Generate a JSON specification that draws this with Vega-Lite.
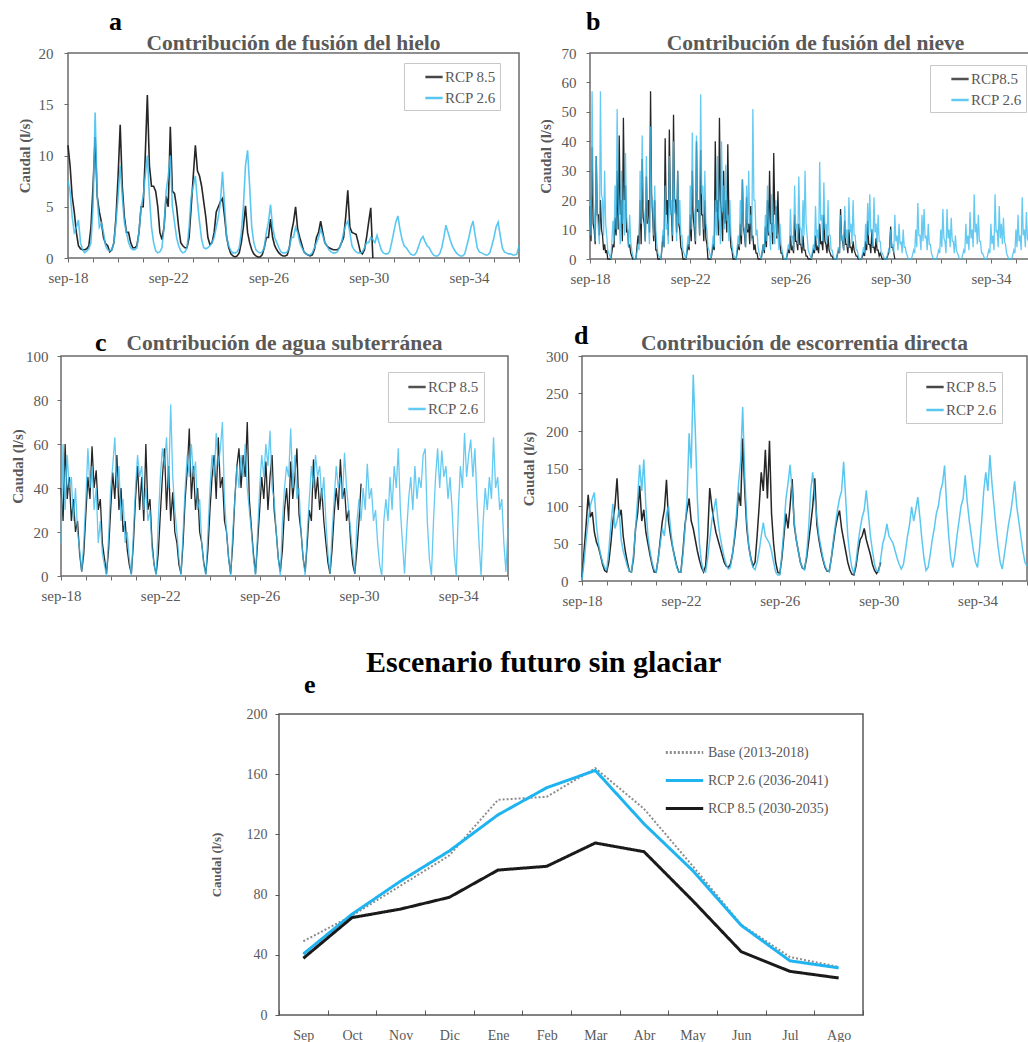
{
"$schema":"https://vega.github.io/schema/vega-lite/v6.json",
"background":"white",
"padding":{"left":2,"top":8,"right":5,"bottom":5},
"config":{
 "font":"Liberation Serif",
 "view":{"stroke":"#6b6b6b","strokeWidth":1.5},
 "line":{"invalid":"filter"},
 "axis":{"domain":false,"grid":false,"labelFont":"Liberation Serif","labelFontSize":15,"labelColor":"#595959","titleFont":"Liberation Serif","titleFontSize":15,"titleFontWeight":"bold","titleColor":"#595959","tickColor":"#6b6b6b","tickSize":4,"labelPadding":8,"titlePadding":6},
 "title":{"font":"Liberation Serif","fontWeight":"bold","fontSize":21.5,"color":"#595959"},
 "legend":{"labelFont":"Liberation Serif"}
},
"datasets":{
"ts":[
{"t":0,"a8":11,"a2":7.5,"b8":18,"b2":20,"c8":40,"c2":15,"d8":5,"d2":2},
{"t":1,"a8":9,"a2":6.5,"b8":38,"b2":57,"c8":25,"c2":60,"d8":40,"d2":25},
{"t":2,"a8":6,"a2":4,"b8":10,"b2":15,"c8":60,"c2":30,"d8":75,"d2":55},
{"t":3,"a8":4.5,"a2":2.5,"b8":35,"b2":35,"c8":35,"c2":55,"d8":115,"d2":80},
{"t":4,"a8":2.5,"a2":3,"b8":15,"b2":10,"c8":45,"c2":40,"d8":85,"d2":100},
{"t":5,"a8":1.2,"a2":3.7,"b8":20,"b2":57,"c8":25,"c2":45,"d8":92,"d2":110},
{"t":6,"a8":0.9,"a2":1.5,"b8":8,"b2":20,"c8":35,"c2":25,"d8":65,"d2":118},
{"t":7,"a8":0.8,"a2":0.8,"b8":5,"b2":30,"c8":20,"c2":40,"d8":52,"d2":75},
{"t":8,"a8":0.8,"a2":0.5,"b8":3,"b2":8,"c8":25,"c2":20,"d8":45,"d2":50},
{"t":9,"a8":0.9,"a2":0.7,"b8":0,"b2":2,"c8":10,"c2":12,"d8":34,"d2":35},
{"t":10,"a8":1.2,"a2":0.9,"b8":0,"b2":0,"c8":2,"c2":2,"d8":22,"d2":25},
{"t":11,"a8":3,"a2":1.5,"b8":5,"b2":13,"c8":10,"c2":15,"d8":14,"d2":18},
{"t":12,"a8":7,"a2":5,"b8":14,"b2":25,"c8":28,"c2":35,"d8":12,"d2":15},
{"t":13,"a8":11.8,"a2":14.2,"b8":30,"b2":51,"c8":45,"c2":58,"d8":25,"d2":40},
{"t":14,"a8":6,"a2":6,"b8":42,"b2":12,"c8":35,"c2":40,"d8":50,"d2":75},
{"t":15,"a8":4.5,"a2":3,"b8":20,"b2":30,"c8":59,"c2":50,"d8":80,"d2":103},
{"t":16,"a8":3.5,"a2":3.4,"b8":48,"b2":20,"c8":40,"c2":30,"d8":100,"d2":70},
{"t":17,"a8":2,"a2":2.5,"b8":25,"b2":36,"c8":48,"c2":40,"d8":137,"d2":80},
{"t":18,"a8":1.4,"a2":1.2,"b8":10,"b2":10,"c8":30,"c2":15,"d8":85,"d2":95},
{"t":19,"a8":1.2,"a2":0.8,"b8":5,"b2":15,"c8":35,"c2":25,"d8":95,"d2":55},
{"t":20,"a8":0.6,"a2":0.7,"b8":1,"b2":3,"c8":15,"c2":10,"d8":60,"d2":40},
{"t":21,"a8":0.8,"a2":0.8,"b8":0,"b2":0,"c8":8,"c2":5,"d8":40,"d2":30},
{"t":22,"a8":1.5,"a2":1.5,"b8":0,"b2":0,"c8":1,"c2":0,"d8":25,"d2":20},
{"t":23,"a8":4,"a2":3.5,"b8":8,"b2":5,"c8":12,"c2":18,"d8":13,"d2":13},
{"t":24,"a8":8,"a2":6,"b8":20,"b2":30,"c8":30,"c2":40,"d8":12,"d2":12},
{"t":25,"a8":13,"a2":9,"b8":34,"b2":42,"c8":47,"c2":50,"d8":30,"d2":35},
{"t":26,"a8":7,"a2":6,"b8":12,"b2":15,"c8":35,"c2":63,"d8":70,"d2":70},
{"t":27,"a8":4,"a2":3.5,"b8":28,"b2":35,"c8":55,"c2":40,"d8":90,"d2":110},
{"t":28,"a8":2.5,"a2":2.5,"b8":20,"b2":12,"c8":30,"c2":50,"d8":127,"d2":155},
{"t":29,"a8":2.5,"a2":1.5,"b8":57,"b2":45,"c8":40,"c2":25,"d8":80,"d2":120},
{"t":30,"a8":1.5,"a2":1,"b8":15,"b2":20,"c8":20,"c2":35,"d8":95,"d2":162},
{"t":31,"a8":1,"a2":0.8,"b8":20,"b2":25,"c8":25,"c2":15,"d8":65,"d2":100},
{"t":32,"a8":1,"a2":0.8,"b8":3,"b2":5,"c8":12,"c2":20,"d8":50,"d2":60},
{"t":33,"a8":1.2,"a2":1,"b8":0,"b2":1,"c8":5,"c2":8,"d8":35,"d2":40},
{"t":34,"a8":2.5,"a2":2.5,"b8":0,"b2":0,"c8":1,"c2":0,"d8":22,"d2":25},
{"t":35,"a8":5,"a2":5,"b8":8,"b2":10,"c8":15,"c2":20,"d8":12,"d2":15},
{"t":36,"a8":5,"a2":6,"b8":41,"b2":25,"c8":35,"c2":40,"d8":12,"d2":12},
{"t":37,"a8":10,"a2":8,"b8":20,"b2":12,"c8":50,"c2":55,"d8":30,"d2":30},
{"t":38,"a8":15.9,"a2":10,"b8":44,"b2":35,"c8":30,"c2":45,"d8":55,"d2":50},
{"t":39,"a8":9,"a2":6,"b8":15,"b2":20,"c8":45,"c2":50,"d8":80,"d2":70},
{"t":40,"a8":7,"a2":3,"b8":49,"b2":40,"c8":25,"c2":30,"d8":95,"d2":60},
{"t":41,"a8":7,"a2":1.5,"b8":20,"b2":15,"c8":60,"c2":40,"d8":135,"d2":90},
{"t":42,"a8":6.5,"a2":0.7,"b8":30,"b2":30,"c8":30,"c2":25,"d8":80,"d2":100},
{"t":43,"a8":5,"a2":0.5,"b8":10,"b2":20,"c8":35,"c2":30,"d8":60,"d2":70},
{"t":44,"a8":2.5,"a2":0.6,"b8":3,"b2":8,"c8":15,"c2":12,"d8":45,"d2":45},
{"t":45,"a8":1.8,"a2":1,"b8":0,"b2":2,"c8":5,"c2":5,"d8":32,"d2":30},
{"t":46,"a8":3,"a2":3,"b8":0,"b2":0,"c8":1,"c2":0,"d8":20,"d2":18},
{"t":47,"a8":6,"a2":6.5,"b8":5,"b2":8,"c8":10,"c2":25,"d8":12,"d2":12},
{"t":48,"a8":5,"a2":8,"b8":15,"b2":25,"c8":28,"c2":45,"d8":12,"d2":12},
{"t":49,"a8":12.8,"a2":10,"b8":30,"b2":43,"c8":45,"c2":58,"d8":40,"d2":35},
{"t":50,"a8":6.5,"a2":5,"b8":10,"b2":15,"c8":58,"c2":50,"d8":75,"d2":70},
{"t":51,"a8":6.3,"a2":3.5,"b8":40,"b2":42,"c8":30,"c2":63,"d8":95,"d2":110},
{"t":52,"a8":5,"a2":2,"b8":20,"b2":20,"c8":50,"c2":40,"d8":110,"d2":197},
{"t":53,"a8":3,"a2":1.2,"b8":37,"b2":56,"c8":25,"c2":78,"d8":80,"d2":150},
{"t":54,"a8":1.5,"a2":0.7,"b8":15,"b2":25,"c8":38,"c2":45,"d8":70,"d2":275},
{"t":55,"a8":1.2,"a2":0.5,"b8":20,"b2":30,"c8":20,"c2":30,"d8":55,"d2":200},
{"t":56,"a8":1,"a2":0.6,"b8":5,"b2":10,"c8":15,"c2":20,"d8":40,"d2":110},
{"t":57,"a8":1,"a2":1,"b8":0,"b2":3,"c8":5,"c2":8,"d8":28,"d2":50},
{"t":58,"a8":2,"a2":3,"b8":0,"b2":0,"c8":1,"c2":0,"d8":18,"d2":25},
{"t":59,"a8":5,"a2":6,"b8":5,"b2":8,"c8":15,"c2":20,"d8":12,"d2":13},
{"t":60,"a8":8,"a2":7,"b8":40,"b2":20,"c8":35,"c2":40,"d8":20,"d2":12},
{"t":61,"a8":11,"a2":8,"b8":20,"b2":35,"c8":48,"c2":55,"d8":60,"d2":30},
{"t":62,"a8":8.5,"a2":5.5,"b8":48,"b2":12,"c8":67,"c2":45,"d8":124,"d2":55},
{"t":63,"a8":8,"a2":3.5,"b8":15,"b2":40,"c8":35,"c2":60,"d8":100,"d2":80},
{"t":64,"a8":7,"a2":1.8,"b8":30,"b2":25,"c8":50,"c2":45,"d8":80,"d2":95},
{"t":65,"a8":5.5,"a2":1,"b8":20,"b2":32,"c8":30,"c2":52,"d8":65,"d2":110},
{"t":66,"a8":4,"a2":0.9,"b8":39,"b2":15,"c8":40,"c2":30,"d8":55,"d2":80},
{"t":67,"a8":2,"a2":1,"b8":10,"b2":20,"c8":20,"c2":35,"d8":45,"d2":60},
{"t":68,"a8":1.3,"a2":1.2,"b8":3,"b2":5,"c8":15,"c2":15,"d8":35,"d2":45},
{"t":69,"a8":1.5,"a2":1.5,"b8":0,"b2":1,"c8":6,"c2":5,"d8":25,"d2":32},
{"t":70,"a8":2.5,"a2":2,"b8":0,"b2":0,"c8":1,"c2":0,"d8":20,"d2":22},
{"t":71,"a8":4.5,"a2":3,"b8":5,"b2":8,"c8":12,"c2":20,"d8":18,"d2":16},
{"t":72,"a8":5,"a2":4,"b8":12,"b2":20,"c8":30,"c2":40,"d8":22,"d2":18},
{"t":73,"a8":5.5,"a2":5.5,"b8":27,"b2":27,"c8":45,"c2":55,"d8":35,"d2":35},
{"t":74,"a8":5.8,"a2":8.4,"b8":8,"b2":10,"c8":55,"c2":45,"d8":55,"d2":60},
{"t":75,"a8":4,"a2":5,"b8":21,"b2":25,"c8":35,"c2":65,"d8":80,"d2":90},
{"t":76,"a8":2,"a2":2,"b8":12,"b2":30,"c8":63,"c2":50,"d8":118,"d2":130},
{"t":77,"a8":1,"a2":1.2,"b8":18,"b2":15,"c8":40,"c2":58,"d8":100,"d2":160},
{"t":78,"a8":0.4,"a2":0.7,"b8":8,"b2":51,"c8":45,"c2":70,"d8":190,"d2":232},
{"t":79,"a8":0.2,"a2":0.5,"b8":5,"b2":20,"c8":25,"c2":35,"d8":120,"d2":140},
{"t":80,"a8":0.1,"a2":0.5,"b8":2,"b2":10,"c8":20,"c2":20,"d8":70,"d2":80},
{"t":81,"a8":0.2,"a2":0.6,"b8":0,"b2":2,"c8":8,"c2":8,"d8":45,"d2":45},
{"t":82,"a8":0.5,"a2":1,"b8":0,"b2":0,"c8":1,"c2":0,"d8":30,"d2":28},
{"t":83,"a8":1.5,"a2":2.5,"b8":5,"b2":5,"c8":15,"c2":20,"d8":20,"d2":18},
{"t":84,"a8":3,"a2":5,"b8":11,"b2":15,"c8":35,"c2":35,"d8":25,"d2":15},
{"t":85,"a8":5.1,"a2":9,"b8":20,"b2":25,"c8":50,"c2":50,"d8":60,"d2":25},
{"t":86,"a8":2.5,"a2":10.5,"b8":30,"b2":8,"c8":58,"c2":40,"d8":100,"d2":40},
{"t":87,"a8":1.5,"a2":7,"b8":12,"b2":22,"c8":40,"c2":55,"d8":145,"d2":60},
{"t":88,"a8":0.8,"a2":3,"b8":36,"b2":12,"c8":55,"c2":45,"d8":120,"d2":78},
{"t":89,"a8":0.4,"a2":1.5,"b8":18,"b2":20,"c8":45,"c2":60,"d8":175,"d2":60},
{"t":90,"a8":0.2,"a2":0.8,"b8":23,"b2":8,"c8":70,"c2":40,"d8":110,"d2":55},
{"t":91,"a8":0.1,"a2":0.6,"b8":5,"b2":12,"c8":35,"c2":30,"d8":187,"d2":50},
{"t":92,"a8":0.1,"a2":0.5,"b8":2,"b2":3,"c8":22,"c2":20,"d8":90,"d2":40},
{"t":93,"a8":0.3,"a2":0.6,"b8":0,"b2":0,"c8":10,"c2":8,"d8":50,"d2":25},
{"t":94,"a8":1,"a2":1,"b8":0,"b2":0,"c8":1,"c2":0,"d8":25,"d2":12},
{"t":95,"a8":2,"a2":2.5,"b8":3,"b2":5,"c8":15,"c2":20,"d8":12,"d2":8},
{"t":96,"a8":2,"a2":3.5,"b8":8,"b2":17,"c8":30,"c2":40,"d8":10,"d2":8},
{"t":97,"a8":3.8,"a2":5.2,"b8":4,"b2":8,"c8":45,"c2":55,"d8":30,"d2":35},
{"t":98,"a8":2,"a2":3,"b8":15,"b2":25,"c8":35,"c2":45,"d8":60,"d2":70},
{"t":99,"a8":1.2,"a2":2,"b8":6,"b2":12,"c8":52,"c2":60,"d8":90,"d2":110},
{"t":100,"a8":0.8,"a2":1.5,"b8":12,"b2":28,"c8":30,"c2":50,"d8":70,"d2":130},
{"t":101,"a8":0.5,"a2":1,"b8":5,"b2":10,"c8":45,"c2":66,"d8":100,"d2":155},
{"t":102,"a8":0.3,"a2":0.6,"b8":8,"b2":20,"c8":55,"c2":40,"d8":136,"d2":120},
{"t":103,"a8":0.2,"a2":0.5,"b8":3,"b2":30,"c8":30,"c2":35,"d8":75,"d2":80},
{"t":104,"a8":0.2,"a2":0.5,"b8":1,"b2":8,"c8":20,"c2":20,"d8":55,"d2":55},
{"t":105,"a8":0.3,"a2":0.6,"b8":0,"b2":2,"c8":8,"c2":8,"d8":40,"d2":40},
{"t":106,"a8":1,"a2":1,"b8":0,"b2":0,"c8":2,"c2":0,"d8":25,"d2":25},
{"t":107,"a8":2.5,"a2":2,"b8":3,"b2":5,"c8":12,"c2":25,"d8":17,"d2":18},
{"t":108,"a8":3.5,"a2":2,"b8":8,"b2":18,"c8":30,"c2":40,"d8":16,"d2":15},
{"t":109,"a8":5,"a2":3,"b8":4,"b2":10,"c8":40,"c2":50,"d8":30,"d2":35},
{"t":110,"a8":2.8,"a2":2.5,"b8":12,"b2":33,"c8":25,"c2":45,"d8":52,"d2":70},
{"t":111,"a8":2,"a2":1.5,"b8":6,"b2":15,"c8":52,"c2":67,"d8":75,"d2":120},
{"t":112,"a8":1.3,"a2":1,"b8":15,"b2":26,"c8":35,"c2":40,"d8":100,"d2":145},
{"t":113,"a8":0.6,"a2":0.6,"b8":5,"b2":12,"c8":45,"c2":55,"d8":137,"d2":110},
{"t":114,"a8":0.4,"a2":0.4,"b8":8,"b2":20,"c8":58,"c2":35,"d8":75,"d2":85},
{"t":115,"a8":0.3,"a2":0.3,"b8":2,"b2":8,"c8":28,"c2":40,"d8":55,"d2":60},
{"t":116,"a8":0.2,"a2":0.3,"b8":1,"b2":3,"c8":20,"c2":20,"d8":40,"d2":45},
{"t":117,"a8":0.3,"a2":0.5,"b8":0,"b2":0,"c8":8,"c2":8,"d8":28,"d2":30},
{"t":118,"a8":0.8,"a2":1,"b8":0,"b2":0,"c8":2,"c2":0,"d8":18,"d2":20},
{"t":119,"a8":2,"a2":1.5,"b8":3,"b2":4,"c8":15,"c2":20,"d8":13,"d2":14},
{"t":120,"a8":2.5,"a2":2,"b8":17,"b2":15,"c8":30,"c2":35,"d8":13,"d2":12},
{"t":121,"a8":3.6,"a2":2.8,"b8":6,"b2":8,"c8":25,"c2":50,"d8":30,"d2":30},
{"t":122,"a8":2.5,"a2":2.2,"b8":13,"b2":18,"c8":53,"c2":40,"d8":50,"d2":55},
{"t":123,"a8":1.5,"a2":1.5,"b8":5,"b2":10,"c8":35,"c2":55,"d8":70,"d2":75},
{"t":124,"a8":1.2,"a2":1.2,"b8":10,"b2":21,"c8":45,"c2":45,"d8":85,"d2":95},
{"t":125,"a8":1,"a2":0.8,"b8":4,"b2":12,"c8":30,"c2":50,"d8":94,"d2":110},
{"t":126,"a8":0.9,"a2":0.6,"b8":6,"b2":20,"c8":40,"c2":35,"d8":70,"d2":120},
{"t":127,"a8":0.8,"a2":0.5,"b8":2,"b2":8,"c8":25,"c2":45,"d8":55,"d2":159},
{"t":128,"a8":0.8,"a2":0.5,"b8":1,"b2":3,"c8":15,"c2":25,"d8":40,"d2":110},
{"t":129,"a8":0.8,"a2":0.6,"b8":0,"b2":0,"c8":6,"c2":10,"d8":25,"d2":60},
{"t":130,"a8":1,"a2":1,"b8":0,"b2":0,"c8":1,"c2":1,"d8":15,"d2":35},
{"t":131,"a8":1.5,"a2":1.5,"b8":2,"b2":4,"c8":12,"c2":20,"d8":9,"d2":18},
{"t":132,"a8":2,"a2":2.5,"b8":6,"b2":12,"c8":28,"c2":35,"d8":8,"d2":10},
{"t":133,"a8":4,"a2":3.2,"b8":13,"b2":19,"c8":40,"c2":50,"d8":20,"d2":25},
{"t":134,"a8":6.6,"a2":3.6,"b8":5,"b2":22,"c8":30,"c2":40,"d8":40,"d2":50},
{"t":135,"a8":3,"a2":2.5,"b8":10,"b2":10,"c8":53,"c2":45,"d8":55,"d2":70},
{"t":136,"a8":2.5,"a2":1.2,"b8":4,"b2":21,"c8":35,"c2":35,"d8":60,"d2":85},
{"t":137,"a8":2.4,"a2":0.8,"b8":7,"b2":12,"c8":40,"c2":56,"d8":70,"d2":95},
{"t":138,"a8":2.3,"a2":0.6,"b8":3,"b2":15,"c8":25,"c2":40,"d8":55,"d2":121},
{"t":139,"a8":1.5,"a2":0.5,"b8":2,"b2":6,"c8":30,"c2":30,"d8":45,"d2":90},
{"t":140,"a8":0.6,"a2":0.5,"b8":0,"b2":2,"c8":15,"c2":20,"d8":35,"d2":60},
{"t":141,"a8":0.4,"a2":0.6,"b8":0,"b2":0,"c8":5,"c2":10,"d8":22,"d2":40},
{"t":142,"a8":0.8,"a2":1,"b8":0,"b2":0,"c8":1,"c2":1,"d8":14,"d2":22},
{"t":143,"a8":2,"a2":1.5,"b8":2,"b2":3,"c8":12,"c2":25,"d8":10,"d2":14},
{"t":144,"a8":3.5,"a2":1.5,"b8":11,"b2":10,"c8":25,"c2":35,"d8":15,"d2":12},
{"t":145,"a8":4.9,"a2":2,"b8":4,"b2":5,"c8":42,"c2":25,"d8":25,"d2":30},
{"t":146,"a8":0,"a2":1.8,"b8":0,"b2":15,"c2":40,"d2":50},
{"t":147,"a2":1.5,"b2":8,"c2":30,"d2":60},
{"t":148,"a2":2.2,"b2":12,"c2":51,"d2":76},
{"t":149,"a2":1.5,"b2":6,"c2":35,"d2":60},
{"t":150,"a2":0.8,"b2":10,"c2":40,"d2":55},
{"t":151,"a2":0.5,"b2":4,"c2":25,"d2":50},
{"t":152,"a2":0.4,"b2":1,"c2":30,"d2":40},
{"t":153,"a2":0.4,"b2":0,"c2":15,"d2":30},
{"t":154,"a2":0.6,"b2":0,"c2":5,"d2":22},
{"t":155,"a2":1.5,"b2":3,"c2":0,"d2":16},
{"t":156,"a2":2.5,"b2":10,"c2":25,"d2":22},
{"t":157,"a2":3.5,"b2":19,"c2":35,"d2":40},
{"t":158,"a2":4.1,"b2":8,"c2":25,"d2":60},
{"t":159,"a2":2.8,"b2":15,"c2":45,"d2":75},
{"t":160,"a2":1.8,"b2":17,"c2":30,"d2":99},
{"t":161,"a2":1.2,"b2":8,"c2":50,"d2":80},
{"t":162,"a2":1,"b2":12,"c2":40,"d2":95},
{"t":163,"a2":0.7,"b2":5,"c2":58,"d2":112},
{"t":164,"a2":0.4,"b2":1,"c2":30,"d2":85},
{"t":165,"a2":0.3,"b2":0,"c2":15,"d2":55},
{"t":166,"a2":0.3,"b2":0,"c2":1,"d2":30},
{"t":167,"a2":0.6,"b2":3,"c2":20,"d2":14},
{"t":168,"a2":1.2,"b2":10,"c2":35,"d2":18},
{"t":169,"a2":1.8,"b2":17,"c2":45,"d2":35},
{"t":170,"a2":2.1,"b2":6,"c2":30,"d2":55},
{"t":171,"a2":1.6,"b2":17,"c2":50,"d2":70},
{"t":172,"a2":1.2,"b2":10,"c2":35,"d2":90},
{"t":173,"a2":1,"b2":14,"c2":45,"d2":100},
{"t":174,"a2":0.6,"b2":6,"c2":40,"d2":120},
{"t":175,"a2":0.3,"b2":8,"c2":55,"d2":130},
{"t":176,"a2":0.2,"b2":2,"c2":58,"d2":154},
{"t":177,"a2":0.2,"b2":0,"c2":25,"d2":100},
{"t":178,"a2":0.4,"b2":0,"c2":8,"d2":60},
{"t":179,"a2":1,"b2":3,"c2":0,"d2":30},
{"t":180,"a2":2,"b2":12,"c2":25,"d2":18},
{"t":181,"a2":3.2,"b2":8,"c2":45,"d2":35},
{"t":182,"a2":2.5,"b2":16,"c2":58,"d2":60},
{"t":183,"a2":1.8,"b2":10,"c2":40,"d2":80},
{"t":184,"a2":1.2,"b2":22,"c2":57,"d2":100},
{"t":185,"a2":0.8,"b2":12,"c2":45,"d2":110},
{"t":186,"a2":0.5,"b2":15,"c2":50,"d2":141},
{"t":187,"a2":0.3,"b2":6,"c2":35,"d2":105},
{"t":188,"a2":0.2,"b2":2,"c2":45,"d2":80},
{"t":189,"a2":0.2,"b2":0,"c2":30,"d2":60},
{"t":190,"a2":0.4,"b2":0,"c2":10,"d2":40},
{"t":191,"a2":1.2,"b2":3,"c2":0,"d2":25},
{"t":192,"a2":2,"b2":12,"c2":30,"d2":18},
{"t":193,"a2":3,"b2":8,"c2":50,"d2":45},
{"t":194,"a2":3.6,"b2":22,"c2":40,"d2":80},
{"t":195,"a2":2.2,"b2":10,"c2":65,"d2":120},
{"t":196,"a2":1,"b2":18,"c2":45,"d2":145},
{"t":197,"a2":0.6,"b2":12,"c2":55,"d2":120},
{"t":198,"a2":0.5,"b2":14,"c2":62,"d2":168},
{"t":199,"a2":0.4,"b2":5,"c2":45,"d2":130},
{"t":200,"a2":0.3,"b2":1,"c2":58,"d2":100},
{"t":201,"a2":0.3,"b2":0,"c2":35,"d2":70},
{"t":202,"a2":0.5,"b2":0,"c2":15,"d2":45},
{"t":203,"a2":1.2,"b2":3,"c2":0,"d2":25},
{"t":204,"a2":2,"b2":10,"c2":25,"d2":16},
{"t":205,"a2":3,"b2":15,"c2":40,"d2":35},
{"t":206,"a2":3.5,"b2":8,"c2":30,"d2":55},
{"t":207,"a2":2.2,"b2":21,"c2":45,"d2":75},
{"t":208,"a2":1,"b2":10,"c2":35,"d2":90},
{"t":209,"a2":0.6,"b2":16,"c2":63,"d2":110},
{"t":210,"a2":0.5,"b2":6,"c2":40,"d2":133},
{"t":211,"a2":0.4,"b2":8,"c2":45,"d2":100},
{"t":212,"a2":0.4,"b2":2,"c2":30,"d2":80},
{"t":213,"a2":0.3,"b2":0,"c2":35,"d2":60},
{"t":214,"a2":0.3,"b2":0,"c2":15,"d2":40},
{"t":215,"a2":0.4,"b2":3,"c2":2,"d2":25},
{"t":216,"a2":1.2,"b2":8,"c2":22,"d2":20},
{"t":0.5,"b8":6,"b2":8},{"t":1.5,"b8":12,"b2":22},{"t":2.5,"b8":5,"b2":6},{"t":3.5,"b8":15,"b2":15},{"t":4.5,"b8":8,"b2":5},{"t":5.5,"b8":10,"b2":22},{"t":6.5,"b8":3,"b2":8},{"t":7.5,"b8":2,"b2":12},{"t":8.5,"b8":0,"b2":3},{"t":11.5,"b8":4,"b2":6},
{"t":12.5,"b8":8,"b2":10},{"t":13.5,"b8":10,"b2":20},{"t":14.5,"b8":15,"b2":5},{"t":15.5,"b8":6,"b2":12},{"t":16.5,"b8":20,"b2":8},{"t":17.5,"b8":9,"b2":15},{"t":18.5,"b8":4,"b2":4},{"t":19.5,"b8":2,"b2":6},{"t":20.5,"b8":0,"b2":1},{"t":23.5,"b8":5,"b2":3},
{"t":24.5,"b8":5,"b2":12},{"t":25.5,"b8":14,"b2":18},{"t":26.5,"b8":6,"b2":6},{"t":27.5,"b8":12,"b2":15},{"t":28.5,"b8":9,"b2":5},{"t":29.5,"b8":22,"b2":18},{"t":30.5,"b8":6,"b2":8},{"t":31.5,"b8":3,"b2":10},{"t":32.5,"b8":0,"b2":2},{"t":35.5,"b8":4,"b2":4},
{"t":36.5,"b8":15,"b2":10},{"t":37.5,"b8":8,"b2":5},{"t":38.5,"b8":18,"b2":15},{"t":39.5,"b8":6,"b2":8},{"t":40.5,"b8":20,"b2":16},{"t":41.5,"b8":9,"b2":6},{"t":42.5,"b8":12,"b2":12},{"t":43.5,"b8":4,"b2":8},{"t":44.5,"b8":0,"b2":3},{"t":47.5,"b8":3,"b2":4},
{"t":48.5,"b8":6,"b2":10},{"t":49.5,"b8":14,"b2":18},{"t":50.5,"b8":5,"b2":6},{"t":51.5,"b8":16,"b2":17},{"t":52.5,"b8":8,"b2":8},{"t":53.5,"b8":15,"b2":22},{"t":54.5,"b8":6,"b2":10},{"t":55.5,"b8":7,"b2":12},{"t":56.5,"b8":0,"b2":4},{"t":59.5,"b8":3,"b2":4},
{"t":60.5,"b8":16,"b2":8},{"t":61.5,"b8":8,"b2":15},{"t":62.5,"b8":20,"b2":5},{"t":63.5,"b8":6,"b2":16},{"t":64.5,"b8":12,"b2":10},{"t":65.5,"b8":9,"b2":13},{"t":66.5,"b8":15,"b2":6},{"t":67.5,"b8":4,"b2":8},{"t":68.5,"b8":0,"b2":2},{"t":71.5,"b8":3,"b2":4},
{"t":72.5,"b8":5,"b2":8},{"t":73.5,"b8":11,"b2":11},{"t":74.5,"b8":4,"b2":4},{"t":75.5,"b8":9,"b2":10},{"t":76.5,"b8":5,"b2":12},{"t":77.5,"b8":7,"b2":6},{"t":78.5,"b8":3,"b2":20},{"t":79.5,"b8":2,"b2":8},{"t":80.5,"b8":0,"b2":4},{"t":83.5,"b8":2,"b2":3},
{"t":84.5,"b8":4,"b2":6},{"t":85.5,"b8":8,"b2":10},{"t":86.5,"b8":12,"b2":3},{"t":87.5,"b8":5,"b2":9},{"t":88.5,"b8":15,"b2":5},{"t":89.5,"b8":7,"b2":8},{"t":90.5,"b8":9,"b2":3},{"t":91.5,"b8":2,"b2":5},{"t":92.5,"b8":0,"b2":1},{"t":95.5,"b8":2,"b2":3},
{"t":96.5,"b8":3,"b2":7},{"t":97.5,"b8":2,"b2":3},{"t":98.5,"b8":6,"b2":10},{"t":99.5,"b8":3,"b2":5},{"t":100.5,"b8":5,"b2":11},{"t":101.5,"b8":2,"b2":4},{"t":102.5,"b8":3,"b2":8},{"t":103.5,"b8":1,"b2":12},{"t":104.5,"b8":0,"b2":3},{"t":107.5,"b8":2,"b2":3},
{"t":108.5,"b8":3,"b2":7},{"t":109.5,"b8":2,"b2":4},{"t":110.5,"b8":5,"b2":13},{"t":111.5,"b8":3,"b2":6},{"t":112.5,"b8":6,"b2":10},{"t":113.5,"b8":2,"b2":5},{"t":114.5,"b8":3,"b2":8},{"t":115.5,"b8":1,"b2":3},{"t":116.5,"b8":0,"b2":1},{"t":119.5,"b8":2,"b2":2},
{"t":120.5,"b8":7,"b2":6},{"t":121.5,"b8":3,"b2":3},{"t":122.5,"b8":5,"b2":7},{"t":123.5,"b8":2,"b2":4},{"t":124.5,"b8":4,"b2":9},{"t":125.5,"b8":2,"b2":5},{"t":126.5,"b8":3,"b2":8},{"t":127.5,"b8":1,"b2":3},{"t":128.5,"b8":0,"b2":1},{"t":131.5,"b8":1,"b2":2},
{"t":132.5,"b8":3,"b2":5},{"t":133.5,"b8":5,"b2":8},{"t":134.5,"b8":2,"b2":9},{"t":135.5,"b8":4,"b2":4},{"t":136.5,"b8":2,"b2":9},{"t":137.5,"b8":3,"b2":5},{"t":138.5,"b8":1,"b2":6},{"t":139.5,"b8":1,"b2":2},{"t":140.5,"b8":0,"b2":1},{"t":143.5,"b8":4,"b2":2},
{"t":144.5,"b8":4,"b2":4},{"t":145.5,"b8":2,"b2":2},{"t":146.5,"b2":6},{"t":147.5,"b2":3},{"t":148.5,"b2":5},{"t":149.5,"b2":2},{"t":150.5,"b2":4},{"t":151.5,"b2":2},{"t":152.5,"b2":0},{"t":155.5,"b2":2},
{"t":156.5,"b2":4},{"t":157.5,"b2":8},{"t":158.5,"b2":3},{"t":159.5,"b2":6},{"t":160.5,"b2":7},{"t":161.5,"b2":3},{"t":162.5,"b2":5},{"t":163.5,"b2":2},{"t":164.5,"b2":0},{"t":167.5,"b2":2},
{"t":168.5,"b2":4},{"t":169.5,"b2":7},{"t":170.5,"b2":2},{"t":171.5,"b2":7},{"t":172.5,"b2":4},{"t":173.5,"b2":6},{"t":174.5,"b2":2},{"t":175.5,"b2":3},{"t":176.5,"b2":1},{"t":179.5,"b2":2},
{"t":180.5,"b2":5},{"t":181.5,"b2":3},{"t":182.5,"b2":7},{"t":183.5,"b2":4},{"t":184.5,"b2":9},{"t":185.5,"b2":5},{"t":186.5,"b2":6},{"t":187.5,"b2":2},{"t":188.5,"b2":1},{"t":191.5,"b2":2},
{"t":192.5,"b2":5},{"t":193.5,"b2":3},{"t":194.5,"b2":9},{"t":195.5,"b2":4},{"t":196.5,"b2":7},{"t":197.5,"b2":5},{"t":198.5,"b2":6},{"t":199.5,"b2":2},{"t":200.5,"b2":0},{"t":203.5,"b2":2},
{"t":204.5,"b2":4},{"t":205.5,"b2":6},{"t":206.5,"b2":3},{"t":207.5,"b2":8},{"t":208.5,"b2":4},{"t":209.5,"b2":7},{"t":210.5,"b2":2},{"t":211.5,"b2":3},{"t":212.5,"b2":1},{"t":215.5,"b2":2}
],
"e":[
{"mes":"Sep","serie":"Base (2013-2018)","v":49},{"mes":"Oct","serie":"Base (2013-2018)","v":66},{"mes":"Nov","serie":"Base (2013-2018)","v":86},{"mes":"Dic","serie":"Base (2013-2018)","v":106},{"mes":"Ene","serie":"Base (2013-2018)","v":143},{"mes":"Feb","serie":"Base (2013-2018)","v":145},{"mes":"Mar","serie":"Base (2013-2018)","v":164},{"mes":"Abr","serie":"Base (2013-2018)","v":137},{"mes":"May","serie":"Base (2013-2018)","v":99},{"mes":"Jun","serie":"Base (2013-2018)","v":60},{"mes":"Jul","serie":"Base (2013-2018)","v":38.5},{"mes":"Ago","serie":"Base (2013-2018)","v":32},
{"mes":"Sep","serie":"RCP 2.6 (2036-2041)","v":40.5},{"mes":"Oct","serie":"RCP 2.6 (2036-2041)","v":67},{"mes":"Nov","serie":"RCP 2.6 (2036-2041)","v":89},{"mes":"Dic","serie":"RCP 2.6 (2036-2041)","v":109},{"mes":"Ene","serie":"RCP 2.6 (2036-2041)","v":133},{"mes":"Feb","serie":"RCP 2.6 (2036-2041)","v":151},{"mes":"Mar","serie":"RCP 2.6 (2036-2041)","v":162.5},{"mes":"Abr","serie":"RCP 2.6 (2036-2041)","v":127},{"mes":"May","serie":"RCP 2.6 (2036-2041)","v":96},{"mes":"Jun","serie":"RCP 2.6 (2036-2041)","v":59.5},{"mes":"Jul","serie":"RCP 2.6 (2036-2041)","v":36},{"mes":"Ago","serie":"RCP 2.6 (2036-2041)","v":31.3},
{"mes":"Sep","serie":"RCP 8.5 (2030-2035)","v":37.7},{"mes":"Oct","serie":"RCP 8.5 (2030-2035)","v":64.7},{"mes":"Nov","serie":"RCP 8.5 (2030-2035)","v":70.4},{"mes":"Dic","serie":"RCP 8.5 (2030-2035)","v":78.2},{"mes":"Ene","serie":"RCP 8.5 (2030-2035)","v":96.3},{"mes":"Feb","serie":"RCP 8.5 (2030-2035)","v":98.8},{"mes":"Mar","serie":"RCP 8.5 (2030-2035)","v":114.3},{"mes":"Abr","serie":"RCP 8.5 (2030-2035)","v":108.5},{"mes":"May","serie":"RCP 8.5 (2030-2035)","v":76},{"mes":"Jun","serie":"RCP 8.5 (2030-2035)","v":42},{"mes":"Jul","serie":"RCP 8.5 (2030-2035)","v":29},{"mes":"Ago","serie":"RCP 8.5 (2030-2035)","v":24.6}
]
},
"spacing":39,
"resolve":{"scale":{"color":"independent","strokeDash":"independent"}},
"vconcat":[
 {"spacing":35,"resolve":{"scale":{"color":"independent"}},"vconcat":[
  {"spacing":0,"resolve":{"scale":{"color":"independent"}},"hconcat":[
   {"width":14,"height":1,"data":{"values":[{"k":1}]},"mark":{"type":"point","opacity":0},"encoding":{},"view":{"stroke":null}},
   {"spacing":14,"resolve":{"scale":{"color":"independent"}},"hconcat":[
    {"title":{"text":"a","anchor":"start","frame":"group","fontSize":26,"color":"black","dx":41,"offset":-3},"vconcat":[
     {"width":451,"height":205,
      "title":{"text":"Contribución de fusión del hielo","frame":"group","offset":-8},
      "data":{"name":"ts"},
      "encoding":{"x":{"field":"t","type":"quantitative","scale":{"domain":[0,216],"nice":false,"zero":false},"axis":{"title":null,"values":[0,12,24,36,48,60,72,84,96,108,120,132,144,156,168,180,192,204,216],"labelExpr":"datum.value % 48 == 0 ? 'sep-' + (18 + datum.value / 12) : ''","labelFlush":false,"labelOverlap":false}}},
      "layer":[
       {"mark":{"type":"line","strokeWidth":1.6},"encoding":{"y":{"field":"a8","type":"quantitative","scale":{"domain":[0,20],"nice":false},"axis":{"title":"Caudal (l/s)","values":[0,5,10,15,20],"labelOverlap":false,"labelPadding":11,"titlePadding":6}},"color":{"datum":"RCP 8.5","type":"nominal","scale":{"domain":["RCP 8.5","RCP 2.6"],"range":["#262626","#3dbdee"]},"legend":{"title":null,"orient":"none","legendX":336,"legendY":10,"symbolType":"stroke","symbolSize":300,"symbolStrokeWidth":2.5,"labelFontSize":15,"labelColor":"#595959","strokeColor":"#c8c8c8","fillColor":"white","padding":4,"rowPadding":3,"symbolOffset":16,"labelOffset":1,"labelExpr":"datum.label + '\u00a0\u00a0\u00a0\u00a0\u00a0\u00a0'"}}}},
       {"mark":{"type":"line","strokeWidth":1.6,"opacity":0.85},"encoding":{"y":{"field":"a2","type":"quantitative","axis":{"title":"Caudal (l/s)","values":[0,5,10,15,20],"labelOverlap":false,"labelPadding":11,"titlePadding":6}},"color":{"datum":"RCP 2.6","type":"nominal"}}}
      ]}
    ]},
    {"title":{"text":"b","anchor":"start","frame":"group","fontSize":26,"color":"black","dx":-4,"offset":-3},"vconcat":[
     {"width":451,"height":206,
      "title":{"text":"Contribución de fusión del nieve","frame":"group","offset":-8},
      "data":{"name":"ts"},
      "encoding":{"x":{"field":"t","type":"quantitative","scale":{"domain":[0,216],"nice":false,"zero":false},"axis":{"title":null,"values":[0,12,24,36,48,60,72,84,96,108,120,132,144,156,168,180,192,204,216],"labelExpr":"datum.value % 48 == 0 ? 'sep-' + (18 + datum.value / 12) : ''","labelFlush":false,"labelOverlap":false}}},
      "layer":[
       {"mark":{"type":"line","strokeWidth":1.3},"encoding":{"y":{"field":"b8","type":"quantitative","scale":{"domain":[0,70],"nice":false},"axis":{"title":"Caudal (l/s)","values":[0,10,20,30,40,50,60,70],"labelOverlap":false,"labelPadding":10,"titlePadding":8}},"color":{"datum":"RCP8.5","type":"nominal","scale":{"domain":["RCP8.5","RCP 2.6"],"range":["#262626","#3dbdee"]},"legend":{"title":null,"orient":"none","legendX":340,"legendY":12,"symbolType":"stroke","symbolSize":300,"symbolStrokeWidth":2.5,"labelFontSize":15,"labelColor":"#595959","strokeColor":"#c8c8c8","fillColor":"white","padding":4,"rowPadding":3,"symbolOffset":16,"labelOffset":1,"labelExpr":"datum.label + '\u00a0\u00a0\u00a0\u00a0\u00a0\u00a0'"}}}},
       {"mark":{"type":"line","strokeWidth":1.3,"opacity":0.8},"encoding":{"y":{"field":"b2","type":"quantitative","axis":{"title":"Caudal (l/s)","values":[0,10,20,30,40,50,60,70],"labelOverlap":false,"labelPadding":10,"titlePadding":8}},"color":{"datum":"RCP 2.6","type":"nominal"}}}
      ]}
    ]}
   ]}
  ]},
  {"spacing":0,"resolve":{"scale":{"color":"independent"}},"hconcat":[
   {"width":7,"height":1,"data":{"values":[{"k":1}]},"mark":{"type":"point","opacity":0},"encoding":{},"view":{"stroke":null}},
   {"spacing":8,"resolve":{"scale":{"color":"independent"}},"hconcat":[
    {"title":{"text":"c","anchor":"start","frame":"group","fontSize":26,"color":"black","dx":34,"dy":24,"offset":0},"vconcat":[
     {"width":447,"height":220,
      "title":{"text":"Contribución de agua subterránea","frame":"group","offset":-5},
      "data":{"name":"ts"},
      "encoding":{"x":{"field":"t","type":"quantitative","scale":{"domain":[0,216],"nice":false,"zero":false},"axis":{"title":null,"values":[0,12,24,36,48,60,72,84,96,108,120,132,144,156,168,180,192,204,216],"labelExpr":"datum.value % 48 == 0 ? 'sep-' + (18 + datum.value / 12) : ''","labelFlush":false,"labelOverlap":false}}},
      "layer":[
       {"mark":{"type":"line","strokeWidth":1.3},"encoding":{"y":{"field":"c8","type":"quantitative","scale":{"domain":[0,100],"nice":false},"axis":{"title":"Caudal (l/s)","values":[0,20,40,60,80,100],"labelOverlap":false,"labelPadding":9,"titlePadding":0}},"color":{"datum":"RCP 8.5","type":"nominal","scale":{"domain":["RCP 8.5","RCP 2.6"],"range":["#262626","#3dbdee"]},"legend":{"title":null,"orient":"none","legendX":327,"legendY":16,"symbolType":"stroke","symbolSize":300,"symbolStrokeWidth":2.5,"labelFontSize":15,"labelColor":"#595959","strokeColor":"#c8c8c8","fillColor":"white","padding":5,"rowPadding":4,"symbolOffset":14,"labelOffset":1,"labelExpr":"datum.label + '\u00a0\u00a0\u00a0\u00a0\u00a0\u00a0'"}}}},
       {"mark":{"type":"line","strokeWidth":1.3,"opacity":0.8},"encoding":{"y":{"field":"c2","type":"quantitative","axis":{"title":"Caudal (l/s)","values":[0,20,40,60,80,100],"labelOverlap":false,"labelPadding":9,"titlePadding":0}},"color":{"datum":"RCP 2.6","type":"nominal"}}}
      ]}
    ]},
    {"title":{"text":"d","anchor":"start","frame":"group","fontSize":26,"color":"black","dx":-8,"dy":17,"offset":0},"vconcat":[
     {"width":445,"height":225,
      "title":{"text":"Contribución de escorrentia directa","frame":"group","offset":-5},
      "data":{"name":"ts"},
      "encoding":{"x":{"field":"t","type":"quantitative","scale":{"domain":[0,216],"nice":false,"zero":false},"axis":{"title":null,"values":[0,12,24,36,48,60,72,84,96,108,120,132,144,156,168,180,192,204,216],"labelExpr":"datum.value % 48 == 0 ? 'sep-' + (18 + datum.value / 12) : ''","labelFlush":false,"labelOverlap":false}}},
      "layer":[
       {"mark":{"type":"line","strokeWidth":1.5},"encoding":{"y":{"field":"d8","type":"quantitative","scale":{"domain":[0,300],"nice":false},"axis":{"title":"Caudal (l/s)","values":[0,50,100,150,200,250,300],"labelOverlap":false,"labelPadding":10,"titlePadding":9}},"color":{"datum":"RCP 8.5","type":"nominal","scale":{"domain":["RCP 8.5","RCP 2.6"],"range":["#262626","#3dbdee"]},"legend":{"title":null,"orient":"none","legendX":324,"legendY":16,"symbolType":"stroke","symbolSize":300,"symbolStrokeWidth":2.5,"labelFontSize":15,"labelColor":"#595959","strokeColor":"#c8c8c8","fillColor":"white","padding":5,"rowPadding":5,"symbolOffset":14,"labelOffset":1,"labelExpr":"datum.label + '\u00a0\u00a0\u00a0\u00a0\u00a0\u00a0'"}}}},
       {"mark":{"type":"line","strokeWidth":1.5,"opacity":0.85},"encoding":{"y":{"field":"d2","type":"quantitative","axis":{"title":"Caudal (l/s)","values":[0,50,100,150,200,250,300],"labelOverlap":false,"labelPadding":10,"titlePadding":9}},"color":{"datum":"RCP 2.6","type":"nominal"}}}
      ]}
    ]}
   ]}
  ]}
 ]},
 {"spacing":0,"resolve":{"scale":{"color":"independent","strokeDash":"independent"}},"hconcat":[
  {"width":207,"height":1,"data":{"values":[{"k":1}]},"mark":{"type":"point","opacity":0},"encoding":{},"view":{"stroke":null}},
  {"title":{"text":"Escenario futuro sin glaciar","fontSize":30,"color":"black","frame":"group","dx":87,"offset":-7},"vconcat":[
   {"width":584,"height":301,
    "title":{"text":"e","anchor":"start","frame":"group","fontSize":26,"color":"black","dx":25,"offset":9},
    "data":{"name":"e"},
    "view":{"stroke":"#595959","strokeWidth":1.5},
    "encoding":{
     "x":{"field":"mes","type":"nominal","sort":["Sep","Oct","Nov","Dic","Ene","Feb","Mar","Abr","May","Jun","Jul","Ago"],"bandPosition":0.5,"scale":{"type":"band","paddingInner":0,"paddingOuter":0},"axis":{"title":null,"labelAngle":0,"tickBand":"extent","tickSize":-5,"labelPadding":18,"labelFontSize":14,"tickColor":"#595959"}},
     "y":{"field":"v","type":"quantitative","scale":{"domain":[0,200],"nice":false},"axis":{"title":"Caudal (l/s)","values":[0,40,80,120,160,200],"labelFontSize":14,"titleFontSize":13,"titlePadding":23,"labelPadding":8,"tickColor":"#595959","labelOverlap":false}},
     "color":{"field":"serie","type":"nominal","scale":{"domain":["Base (2013-2018)","RCP 2.6 (2036-2041)","RCP 8.5 (2030-2035)"],"range":["#8c8c8c","#1fb4f0","#1a1a1a"]},"legend":{"title":null,"orient":"none","legendX":385,"legendY":18,"symbolType":"stroke","symbolSize":1400,"symbolStrokeWidth":3,"labelFontSize":14,"labelColor":"#595959","rowPadding":-13,"labelOffset":3,"padding":0}},
     "strokeDash":{"field":"serie","type":"nominal","scale":{"domain":["Base (2013-2018)","RCP 2.6 (2036-2041)","RCP 8.5 (2030-2035)"],"range":[[2,2],[1,0],[1,0]]},"legend":{"title":null,"orient":"none","legendX":385,"legendY":18,"symbolType":"stroke","symbolSize":1400,"symbolStrokeWidth":3,"labelFontSize":14,"labelColor":"#595959","rowPadding":-13,"labelOffset":3,"padding":0}}
    },
    "layer":[
     {"transform":[{"filter":"datum.serie == 'Base (2013-2018)'"}],"mark":{"type":"line","strokeWidth":2}},
     {"transform":[{"filter":"datum.serie != 'Base (2013-2018)'"}],"mark":{"type":"line","strokeWidth":3}}
    ]}
  ]}
 ]}
]
}
